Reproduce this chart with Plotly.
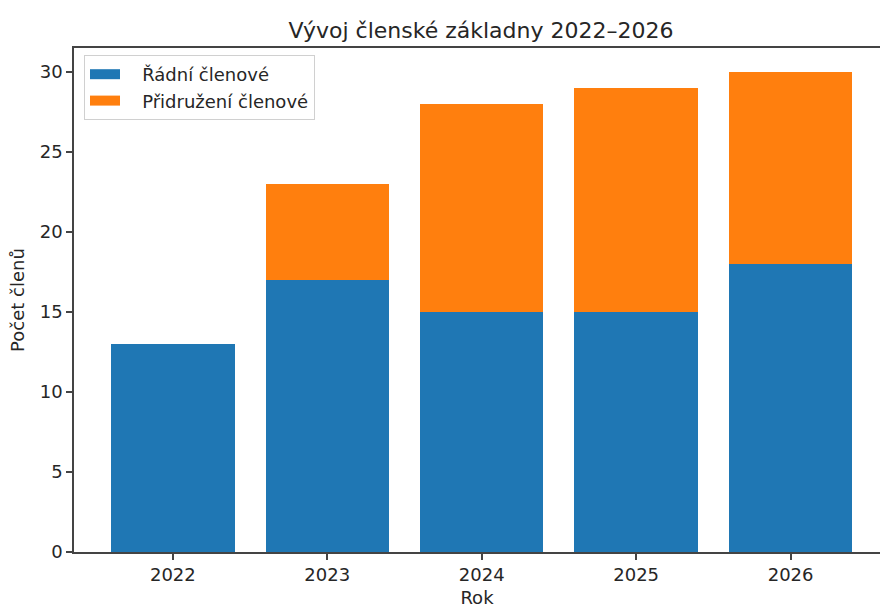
import plotly.graph_objects as go

years = ["2022", "2023", "2024", "2025", "2026"]
radni = [13, 17, 15, 15, 18]
pridruzeni = [0, 6, 13, 14, 12]
yticks = [0, 5, 10, 15, 20, 25, 30]

BLUE = "#1f77b4"
ORANGE = "#ff7f0e"
TXT = "#262626"
AX = "#444444"
FONT = "DejaVu Sans"
PAD = "\u00a0\u00a0\u00a0"

fig = go.Figure()
fig.add_trace(go.Bar(x=years, y=radni, marker=dict(color=BLUE, line=dict(width=0)),
                     showlegend=False, name="Řádní členové"))
fig.add_trace(go.Bar(x=years, y=pridruzeni, marker=dict(color=ORANGE, line=dict(width=0)),
                     showlegend=False, name="Přidružení členové"))
# legend entries drawn as wide patches
fig.add_trace(go.Scatter(x=[None], y=[None], mode="lines", line=dict(color=BLUE, width=12),
                         name=PAD + "Řádní členové"))
fig.add_trace(go.Scatter(x=[None], y=[None], mode="lines", line=dict(color=ORANGE, width=12),
                         name=PAD + "Přidružení členové"))

fig.update_layout(
    width=880, height=608,
    margin=dict(l=74, r=0, t=48, b=56, autoexpand=False),
    barmode="stack", bargap=0.2,
    plot_bgcolor="white", paper_bgcolor="white",
    font=dict(family=FONT, size=18, color=TXT),
    title=dict(text="Vývoj členské základny 2022–2026", x=481/880, xanchor="center",
               y=1 - 30/608, yanchor="middle", font=dict(size=22, color=TXT)),
    legend=dict(x=(84 - 74) / 806, y=1 - (55 - 48) / 504,
                xanchor="left", yanchor="top", traceorder="normal",
                bgcolor="rgba(255,255,255,0.9)", bordercolor="#d0d0d0", borderwidth=1,
                font=dict(size=18, color=TXT), itemwidth=30, tracegroupgap=0),
    xaxis=dict(type="category", range=[-0.64, 4.579], showgrid=False, zeroline=False,
               showline=True, linecolor=AX, linewidth=1.5, mirror=True,
               ticks="outside", ticklen=6, tickwidth=1.5, tickcolor=AX,
               title=dict(text="Rok", standoff=9, font=dict(size=18, color=TXT))),
    yaxis=dict(range=[0, 31.5], tickvals=yticks, showgrid=False, zeroline=False,
               showline=True, linecolor=AX, linewidth=1.5,
               ticks="outside", ticklen=6, tickwidth=1.5, tickcolor=AX,
               title=dict(text="Počet členů", standoff=10, font=dict(size=18, color=TXT))),
)

fig.write_html("out.html", config={"displayModeBar": False},
               post_script="document.body.style.margin='0';")
